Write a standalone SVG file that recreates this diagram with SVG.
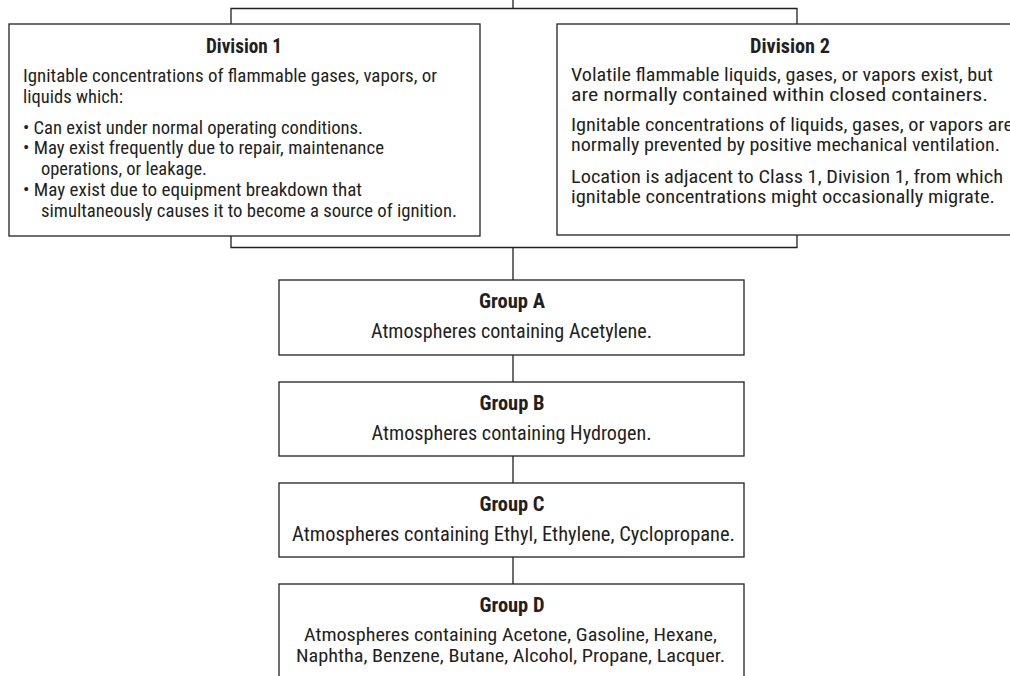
<svg xmlns="http://www.w3.org/2000/svg" width="1010" height="676" viewBox="0 0 1010 676">
<style>
.box{fill:#fff;stroke:#231f20;stroke-width:1.3}
.ln{fill:none;stroke:#231f20;stroke-width:1.3}
text{font-family:"Liberation Sans Narrow","Roboto Condensed","DejaVu Sans Condensed",sans-serif;fill:#231f20}
.t{font-size:20px;font-weight:bold;text-anchor:middle}
.g{font-size:21px;font-weight:bold;text-anchor:middle}
.b{font-size:18px}
.b2{font-size:18px}
.c{font-size:20px;text-anchor:middle}
.d{font-size:18px;text-anchor:middle}
</style>
<rect width="1010" height="676" fill="#fff"/>
<g id="connectors">
<path class="ln" d="M513 0V8.5M231 24V8.5H797V24"/>
<path class="ln" d="M231 236V247.5H797V235M513 247.5V280"/>
<path class="ln" d="M513 355V382M513 456V483M513 557V584"/>
</g>
<g id="division1">
<rect class="box" x="9" y="24" width="471" height="212"/>
<text class="t" x="244" y="52.5" textLength="76" lengthAdjust="spacingAndGlyphs">Division 1</text>
<text class="b" x="23" y="82" textLength="414" lengthAdjust="spacingAndGlyphs">Ignitable concentrations of flammable gases, vapors, or</text>
<text class="b" x="23" y="102.5" textLength="100" lengthAdjust="spacingAndGlyphs">liquids which:</text>
<text class="b" x="23" y="133.5" textLength="340" lengthAdjust="spacingAndGlyphs">• Can exist under normal operating conditions.</text>
<text class="b" x="23" y="154" textLength="361" lengthAdjust="spacingAndGlyphs">• May exist frequently due to repair, maintenance</text>
<text class="b" x="41" y="174.5" textLength="166" lengthAdjust="spacingAndGlyphs">operations, or leakage.</text>
<text class="b" x="23" y="196" textLength="339" lengthAdjust="spacingAndGlyphs">• May exist due to equipment breakdown that</text>
<text class="b" x="41" y="216.5" textLength="416" lengthAdjust="spacingAndGlyphs">simultaneously causes it to become a source of ignition.</text>
</g>
<g id="division2">
<rect class="box" x="557" y="24" width="466" height="211"/>
<text class="t" x="790" y="52.5" textLength="80" lengthAdjust="spacingAndGlyphs">Division 2</text>
<text class="b2" x="571" y="81" textLength="422" lengthAdjust="spacingAndGlyphs">Volatile flammable liquids, gases, or vapors exist, but</text>
<text class="b2" x="571" y="101" textLength="417" lengthAdjust="spacingAndGlyphs">are normally contained within closed containers.</text>
<text class="b2" x="571" y="131" textLength="442" lengthAdjust="spacingAndGlyphs">Ignitable concentrations of liquids, gases, or vapors are</text>
<text class="b2" x="571" y="151" textLength="429" lengthAdjust="spacingAndGlyphs">normally prevented by positive mechanical ventilation.</text>
<text class="b2" x="571" y="183" textLength="432" lengthAdjust="spacingAndGlyphs">Location is adjacent to Class 1, Division 1, from which</text>
<text class="b2" x="571" y="203" textLength="424" lengthAdjust="spacingAndGlyphs">ignitable concentrations might occasionally migrate.</text>
</g>
<g id="groupA">
<rect class="box" x="279" y="280" width="465" height="75"/>
<text class="g" x="512" y="308" textLength="66" lengthAdjust="spacingAndGlyphs">Group A</text>
<text class="c" x="511.5" y="337.5" textLength="281" lengthAdjust="spacingAndGlyphs">Atmospheres containing Acetylene.</text>
</g>
<g id="groupB">
<rect class="box" x="279" y="382" width="465" height="74"/>
<text class="g" x="512" y="410" textLength="65" lengthAdjust="spacingAndGlyphs">Group B</text>
<text class="c" x="511.5" y="439.5" textLength="280" lengthAdjust="spacingAndGlyphs">Atmospheres containing Hydrogen.</text>
</g>
<g id="groupC">
<rect class="box" x="279" y="483" width="465" height="74"/>
<text class="g" x="512" y="511" textLength="65" lengthAdjust="spacingAndGlyphs">Group C</text>
<text class="c" x="513.5" y="541" textLength="443" lengthAdjust="spacingAndGlyphs">Atmospheres containing Ethyl, Ethylene, Cyclopropane.</text>
</g>
<g id="groupD">
<rect class="box" x="279" y="584" width="465" height="100"/>
<text class="g" x="512" y="612" textLength="65" lengthAdjust="spacingAndGlyphs">Group D</text>
<text class="d" x="510.5" y="641" textLength="413" lengthAdjust="spacingAndGlyphs">Atmospheres containing Acetone, Gasoline, Hexane,</text>
<text class="d" x="510.5" y="662" textLength="429" lengthAdjust="spacingAndGlyphs">Naphtha, Benzene, Butane, Alcohol, Propane, Lacquer.</text>
</g>
</svg>
